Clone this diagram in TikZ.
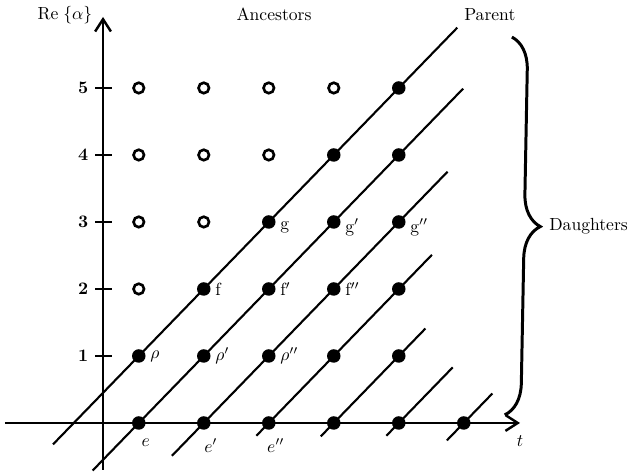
\documentclass[tikz,border=0pt]{standalone}
\usetikzlibrary{arrows.meta,decorations.pathreplacing}
\begin{document}
\begin{tikzpicture}[x=1.3cm, y=1.34cm,
    axisline/.style={line width=1.4pt, -{Straight Barb[length=7pt,width=9pt]}},
    family/.style={line width=1.2pt},
    ancestor/.style={line width=1.5pt},
    tick/.style={line width=1.2pt},
    ptlabel/.style={right, xshift=3pt}]
    \useasboundingbox (-1.585,-0.746) rectangle (8.215,6.313);

    % axes
    \draw[axisline] (-1.51,0) -- (6.415,0) node[below=3pt] (tlabel) {$t$};
    \draw[axisline] (0,-0.70) -- (0,6.06);
    \node (relabel) at (-0.585,6.09) {$\mathrm{Re}\;\{\alpha\}$};
    \foreach \y in {1,...,5}
        \draw[tick] (-0.12,\y) -- (0.14,\y) node[pos=0, left] {\bfseries\y};

    % family lines
    \foreach \k/\a/\b in {0/-0.77/5.45, 1/-0.16/5.54, 2/1.06/5.30, 3/2.36/5.06,
                          4/3.35/4.96, 5/4.36/5.38, 6/5.29/5.99}
        \draw[family] (\a,{\a+0.45-\k}) -- (\b,{\b+0.45-\k});

    % ancestors (open)
    \foreach \j in {2,...,5}{
        \pgfmathtruncatemacro{\last}{\j-2}
        \foreach \i in {0,...,\last}
            \draw[ancestor] ({0.55+\i},\j) circle (0.105cm);
    }

    % filled points
    \foreach \i in {0,...,5}
        \fill ({0.55+\i},0) circle (0.135cm);
    \foreach \j in {1,...,5}{
        \pgfmathtruncatemacro{\first}{\j-1}
        \foreach \i in {\first,...,4}
            \fill ({0.55+\i},\j) circle (0.135cm);
    }

    % point labels
    \node[ptlabel] (rho)  at (0.55,1) {$\rho$};
    \node[ptlabel] (rho1) at (1.55,1) {$\rho'$};
    \node[ptlabel] (rho2) at (2.55,1) {$\rho''$};
    \node[ptlabel] (f)  at (1.55,2) {f};
    \node[ptlabel] (f1) at (2.55,2) {f$'$};
    \node[ptlabel] (f2) at (3.55,2) {f$''$};
    \node[ptlabel, yshift=-3pt] (g)  at (2.55,3) {g};
    \node[ptlabel, yshift=-3pt] (g1) at (3.55,3) {g$'$};
    \node[ptlabel, yshift=-3pt] (g2) at (4.55,3) {g$''$};
    \node[anchor=north, xshift=4pt, yshift=-5.5pt] (e)  at (0.55,0) {$e$};
    \node[anchor=north, xshift=4pt, yshift=-5.5pt] (e1) at (1.55,0) {$e'$};
    \node[anchor=north, xshift=4pt, yshift=-5.5pt] (e2) at (2.55,0) {$e''$};

    % headings and brace
    \node (ancestors) at (2.63,6.10) {Ancestors};
    \node (parent) at (5.95,6.10) {Parent};
    \draw[line width=1.7pt, decorate, decoration={brace, amplitude=0.64cm}]
        (6.29,5.76) -- (6.18,0.12);
    \node[right] (daughters) at (6.77,2.94) {Daughters};
\end{tikzpicture}
\end{document}
